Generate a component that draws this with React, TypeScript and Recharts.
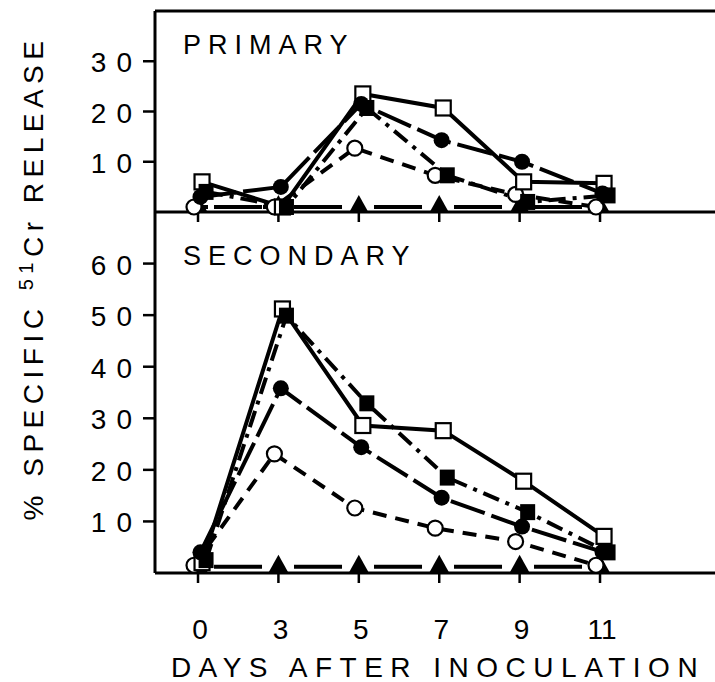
import { LineChart, Line, XAxis, YAxis, ReferenceLine } from "recharts";

// days after inoculation (category labels) and their index on the axis
const days = ["0", "3", "5", "7", "9", "11"];
const dayIdx = [0, 1, 2, 3, 4, 5];

// PRIMARY panel, % specific 51Cr release
const primaryOpenSquare = [6, 1, 23.5, 20.7, 6, 5.7];
const primaryFilledSquare = [4, 1, 20.7, 7.3, 2, 3.3];
const primaryFilledCircle = [3, 5, 21.5, 14.3, 10, 3.7];
const primaryOpenCircle = [1, 1, 12.7, 7.3, 3.5, 1];
const primaryTriangle = [1, 1, 1, 1, 1, 1];

// SECONDARY panel
const secondaryOpenSquare = [2, 51.2, 28.6, 27.6, 17.8, 7.1];
const secondaryFilledSquare = [2.5, 49.9, 32.9, 18.5, 11.8, 4];
const secondaryFilledCircle = [4, 35.8, 24.4, 14.6, 9, 4.1];
const secondaryOpenCircle = [1.5, 23.1, 12.6, 8.7, 6.1, 1.5];
const secondaryTriangle = [1.2, 1.2, 1.2, 1.2, 1.2, 1.2];

const primaryTicks = [10, 20, 30];
const secondaryTicks = [10, 20, 30, 40, 50, 60];

type Kind = "triangle" | "openCircle" | "openSquare" | "filledCircle" | "filledSquare";

const FONT = '"Liberation Sans", Arial, Helvetica, sans-serif';
const X_DOMAIN = [-0.535, 6.43];

const lineStyle: Record<Kind, { dash?: string; dashOffset?: number; jitter: number }> = {
  triangle: { dash: "48 32", dashOffset: 64, jitter: 0 },
  openCircle: { dash: "14 9", jitter: -0.05 },
  openSquare: { jitter: 0.05 },
  filledCircle: { dash: "36 7", jitter: 0.03 },
  filledSquare: { dash: "17 7 4 7", jitter: 0.1 },
};

function Marker({ kind, cx, cy }: { kind: Kind; cx?: number; cy?: number }) {
  if (cx == null || cy == null) return null;
  switch (kind) {
    case "triangle":
      return <polygon points={`${cx - 10},${cy + 6} ${cx + 10},${cy + 6} ${cx},${cy - 12}`} fill="#000" />;
    case "openCircle":
      return <circle cx={cx} cy={cy} r={7.5} fill="#fff" stroke="#000" strokeWidth={2.2} />;
    case "filledCircle":
      return <circle cx={cx} cy={cy} r={8} fill="#000" />;
    case "openSquare":
      return <rect x={cx - 7.5} y={cy - 7.5} width={15} height={15} fill="#fff" stroke="#000" strokeWidth={2.2} />;
    case "filledSquare":
      return <rect x={cx - 7.5} y={cy - 8} width={15} height={16} fill="#000" />;
  }
}

function toPoints(values: number[], jitter: number) {
  return values.map((v, i) => ({ x: dayIdx[i] + jitter, y: v }));
}

function YTick({ x, y, payload }: any) {
  return (
    <text x={x + 1} y={y + 11} textAnchor="end" fontFamily={FONT} fontSize={28} letterSpacing={10} fill="#000">
      {payload.value}
    </text>
  );
}

function XTick({ x, y, payload }: any) {
  return (
    <text x={x + 2} y={y + 54} textAnchor="middle" fontFamily={FONT} fontSize={28} fill="#000">
      {days[payload.value]}
    </text>
  );
}

function renderSeries(panel: Record<Kind, number[]>) {
  const order: Kind[] = ["triangle", "openCircle", "openSquare", "filledCircle", "filledSquare"];
  return order.map((k) => (
    <Line
      key={k}
      data={toPoints(panel[k], lineStyle[k].jitter)}
      dataKey="y"
      type="linear"
      stroke="#000"
      strokeWidth={4}
      strokeDasharray={lineStyle[k].dash}
      strokeDashoffset={lineStyle[k].dashOffset}
      isAnimationActive={false}
      dot={(p: any) => <Marker key={`${k}-${p.index}`} kind={k} cx={p.cx} cy={p.cy} />}
      activeDot={false}
    />
  ));
}

export default function App() {
  const axisLine = { stroke: "#000", strokeWidth: 3 };
  const tickLine = { stroke: "#000", strokeWidth: 2.5 };

  const primary: Record<Kind, number[]> = {
    triangle: primaryTriangle,
    openCircle: primaryOpenCircle,
    openSquare: primaryOpenSquare,
    filledCircle: primaryFilledCircle,
    filledSquare: primaryFilledSquare,
  };
  const secondary: Record<Kind, number[]> = {
    triangle: secondaryTriangle,
    openCircle: secondaryOpenCircle,
    openSquare: secondaryOpenSquare,
    filledCircle: secondaryFilledCircle,
    filledSquare: secondaryFilledSquare,
  };

  return (
    <div style={{ position: "absolute", left: 0, top: 0, width: 715, height: 682, background: "#fff" }}>
      <div style={{ position: "absolute", left: 0, top: 0 }}>
        <LineChart width={715} height={232} margin={{ top: 11, right: 0, bottom: 0, left: 0 }}>
          <XAxis
            type="number"
            dataKey="x"
            domain={X_DOMAIN}
            ticks={dayIdx}
            height={20}
            tickSize={10}
            tick={() => <g />}
            axisLine={axisLine}
            tickLine={tickLine}
          />
          <YAxis
            type="number"
            domain={[0, 40]}
            ticks={primaryTicks}
            width={155}
            tickSize={12}
            tick={<YTick />}
            axisLine={axisLine}
            tickLine={tickLine}
          />
          <ReferenceLine y={40} stroke="#000" strokeWidth={3} />
          {renderSeries(primary)}
        </LineChart>
      </div>
      <div style={{ position: "absolute", left: 0, top: 200 }}>
        <LineChart width={715} height={482} margin={{ top: 12, right: 0, bottom: 0, left: 0 }}>
          <XAxis
            type="number"
            dataKey="x"
            domain={X_DOMAIN}
            ticks={dayIdx}
            height={109}
            tickSize={10}
            tick={<XTick />}
            axisLine={axisLine}
            tickLine={tickLine}
          />
          <YAxis
            type="number"
            domain={[0, 70]}
            ticks={secondaryTicks}
            width={155}
            tickSize={12}
            tick={<YTick />}
            axisLine={axisLine}
            tickLine={tickLine}
          />
          {renderSeries(secondary)}
        </LineChart>
      </div>
      <svg width={715} height={682} style={{ position: "absolute", left: 0, top: 0, pointerEvents: "none" }}>
        <text x={183} y={54} fontFamily={FONT} fontSize={27} letterSpacing={7} fill="#000">
          PRIMARY
        </text>
        <text x={183} y={265} fontFamily={FONT} fontSize={27} letterSpacing={7} fill="#000">
          SECONDARY
        </text>
        <text
          x={438}
          y={677}
          textAnchor="middle"
          fontFamily={FONT}
          fontSize={28}
          letterSpacing={7.5}
          fill="#000"
        >
          DAYS AFTER INOCULATION
        </text>
        <text
          transform="translate(43, 278) rotate(-90)"
          textAnchor="middle"
          fontFamily={FONT}
          fontSize={28}
          letterSpacing={5.5}
          fill="#000"
        >
          % SPECIFIC <tspan dy={-10} fontSize={20}>51</tspan>
          <tspan dy={10}>Cr RELEASE</tspan>
        </text>
      </svg>
    </div>
  );
}
